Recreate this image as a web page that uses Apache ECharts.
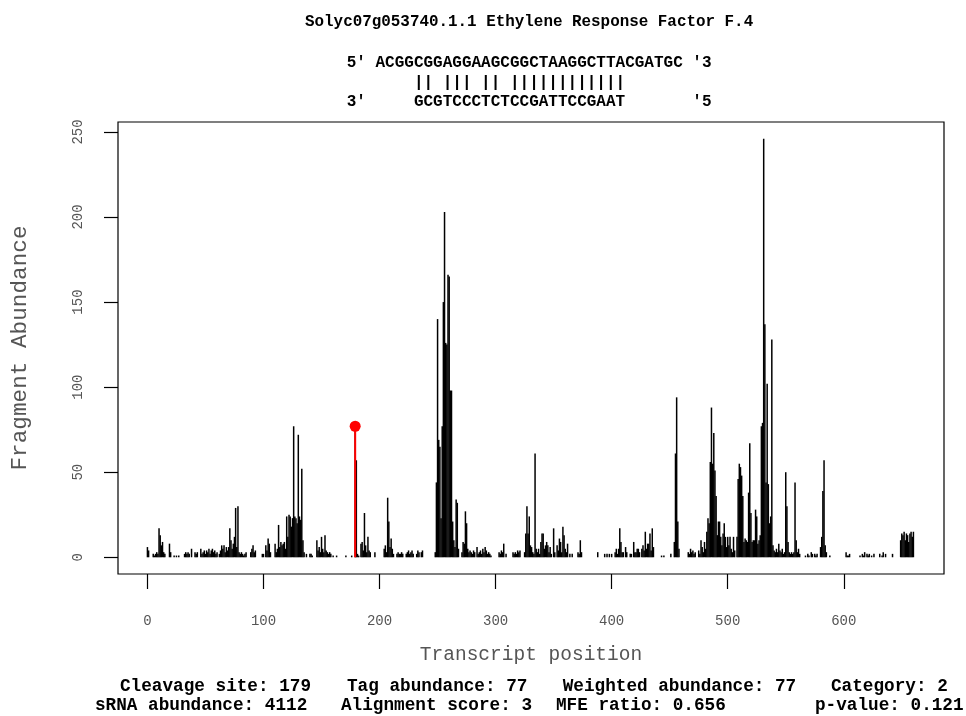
<!DOCTYPE html>
<html>
<head>
<meta charset="utf-8">
<title>Solyc07g053740.1.1 t-plot</title>
<script src="https://cdn.jsdelivr.net/npm/echarts@6/dist/echarts.min.js"></script>
<style>
  html, body { margin: 0; padding: 0; background: #ffffff; }
  #chart { width: 966px; height: 716px; }
</style>
</head>
<body>
<div id="chart"></div>
<script>
// Degradome fragment abundance along the transcript, stored as runs of
// consecutive positions: runStart[i] is the first position of runValues[i].
const runStart = [0, 23, 32, 62, 89, 99, 110, 140, 146, 163, 171, 176, 179, 196, 204, 215, 232,
  248, 271, 303, 315, 325, 371, 388, 394, 403, 443, 451, 466, 475, 567, 580, 602, 614, 631, 642, 649];
const runValues = [
  [6, 4, 0, 0, 0, 2, 1, 2, 3, 2, 17, 13, 7, 9, 3, 2, 0, 0, 0, 8, 3],
  [1, 0, 1, 0, 1],
  [2, 3, 2, 3, 2, 0, 5, 0, 0, 3, 2, 3, 0, 0, 5, 2, 3, 4, 2, 4, 3, 5, 2, 4, 5, 3, 4, 2, 3],
  [2, 4, 7, 5, 7, 3, 6, 4, 6, 17, 10, 5, 8, 12, 29, 6, 30, 3, 2, 3, 2, 1, 2, 3],
  [3, 5, 7, 3, 4],
  [2, 2, 0, 7, 4, 11, 8, 3],
  [8, 3, 5, 19, 6, 9, 7, 8, 9, 5, 24, 12, 25, 24, 18, 23, 77, 24, 23, 20, 72, 24, 22, 52, 10, 3, 0, 2],
  [2, 2, 1],
  [10, 4, 6, 3, 12, 5, 3, 13, 4, 3, 2, 3, 2, 0, 1],
  [1],
  [1],
  [1],
  [77, 57, 2, 1, 0, 8, 9, 4, 26, 7, 3, 12, 4, 3],
  [3],
  [5, 7, 3, 35, 21, 6, 11, 5, 2],
  [2, 3, 2, 2, 3, 2, 0, 0, 2, 3, 4, 2, 3, 4, 2],
  [2, 4, 3, 0, 3, 4],
  [3, 44, 140, 69, 65, 23, 77, 150, 203, 126, 125, 166, 165, 98, 98, 21, 10, 6, 34, 32, 5],
  [3, 9, 8, 27, 20, 5, 3, 4, 3, 2, 4, 3, 0, 6, 2, 3, 4, 2, 5, 3, 6, 4, 2, 3, 2, 1],
  [3, 2, 4, 3, 8, 0, 2],
  [3, 2, 3, 2, 4, 3, 4],
  [3, 14, 30, 14, 24, 7, 6, 3, 2, 61, 5, 3, 5, 2, 9, 14, 14, 5, 7, 9, 7, 3, 6, 2, 0, 17, 3, 0, 7, 4, 11, 9, 3, 18, 13, 5, 3, 8, 0, 2, 0, 2],
  [3, 2, 10, 3],
  [3],
  [2, 0, 2, 0, 2, 0, 2],
  [3, 5, 2, 5, 17, 9, 3, 3, 0, 6, 3, 0, 0, 2, 2, 0, 9, 3, 3, 5, 5, 3, 0, 5, 7, 4, 15, 5, 8, 8, 14, 4, 17, 6],
  [1, 0, 1],
  [2, 0, 0, 9, 61, 94, 21, 5],
  [3, 2, 5, 3, 4, 2, 3],
  [4, 2, 10, 6, 3, 9, 5, 15, 23, 20, 56, 88, 55, 73, 51, 36, 13, 21, 21, 12, 7, 14, 20, 12, 6, 12, 7, 12, 5, 3,
   12, 4, 0, 12, 46, 55, 53, 48, 36, 9, 11, 10, 9, 38, 67, 26, 9, 10, 10, 28, 24, 8, 10, 13, 77, 79, 246, 137, 44, 102,
   43, 20, 24, 128, 7, 4, 3, 5, 3, 8, 4, 3, 5, 2, 3, 50, 30, 9, 3, 2, 3, 2, 3, 44, 10, 3, 5, 2],
  [1, 0, 2, 1, 0, 3, 2, 0, 2, 1, 2],
  [6, 12, 39, 57, 7, 3, 0, 0, 1],
  [3, 1, 1, 2],
  [1, 0, 2, 1, 3, 0, 2, 1, 2, 0, 1, 0, 2],
  [2, 0, 1, 3, 0, 2],
  [2],
  [10, 14, 13, 15, 10, 14, 13, 9, 14, 15, 12, 15]
];

// Tick marks of both axes
const xTicks = [0, 100, 200, 300, 400, 500, 600];
const yTicks = [0, 50, 100, 150, 200, 250];

// Cleavage-site summary
const transcriptName = 'Solyc07g053740.1.1 Ethylene Response Factor F.4';
const targetLine = "5' ACGGCGGAGGAAGCGGCTAAGGCTTACGATGC '3";
const pairLine   = '       || ||| || ||||||||||||';
const srnaLine   = "3'     GCGTCCCTCTCCGATTCCGAAT       '5";
const cleavageSite = 179;
const tagAbundance = 77;
const weightedAbundance = 77;
const category = 2;
const srnaAbundance = 4112;
const alignmentScore = 3;
const mfeRatio = 0.656;
const pValue = 0.121;

// Expand runs into [position, abundance] pairs, leaving out empty positions
const fragments = [];
runStart.forEach(function (start, i) {
  runValues[i].forEach(function (v, k) {
    if (v > 0) fragments.push([start + k, v]);
  });
});

// Axis ranges padded by 4% like the classic plotting default
const xLo = 1, xHi = 660;
const yHi = Math.max.apply(null, fragments.map(function (d) { return d[1]; }));
const xPad = 0.04 * (xHi - xLo);
const yPad = 0.04 * yHi;

const MONO = "'Liberation Mono', 'Courier New', monospace";
const GREY = '#555555';

const chart = echarts.init(document.getElementById('chart'), null, { renderer: 'canvas' });

function txt(x, y, text, size, opts) {
  opts = opts || {};
  return {
    type: 'text',
    x: x,
    y: y,
    silent: true,
    style: {
      text: text,
      font: (opts.bold === false ? '' : 'bold ') + size + 'px ' + MONO,
      fill: opts.color || '#000000',
      textAlign: opts.align || 'left',
      textVerticalAlign: 'middle'
    }
  };
}

chart.setOption({
  animation: false,
  backgroundColor: '#ffffff',
  grid: {
    left: 117, right: 22, top: 122, bottom: 142,
    show: true, borderColor: '#000000', borderWidth: 1.2, backgroundColor: 'transparent'
  },
  xAxis: {
    type: 'value',
    min: xLo - xPad,
    max: xHi + xPad,
    name: 'Transcript position',
    nameLocation: 'middle',
    nameGap: 71,
    nameTextStyle: { fontFamily: MONO, fontSize: 19.5, color: GREY },
    axisLine: { show: false, onZero: false },
    splitLine: { show: false },
    axisTick: {
      show: true, inside: false, length: 15, customValues: xTicks,
      lineStyle: { color: '#000000', width: 1.2 }
    },
    axisLabel: {
      customValues: xTicks, margin: 40,
      fontFamily: MONO, fontSize: 14, color: GREY
    }
  },
  yAxis: {
    type: 'value',
    min: -yPad,
    max: yHi + yPad,
    name: 'Fragment Abundance',
    nameLocation: 'middle',
    nameGap: 87,
    nameTextStyle: { fontFamily: MONO, fontSize: 22.7, color: GREY },
    axisLine: { show: false, onZero: false },
    splitLine: { show: false },
    axisTick: {
      show: true, inside: false, length: 14, customValues: yTicks,
      lineStyle: { color: '#000000', width: 1.2 }
    },
    axisLabel: {
      customValues: yTicks, rotate: 90, margin: 33,
      fontFamily: MONO, fontSize: 14, color: GREY
    }
  },
  series: [
    {
      name: 'fragments',
      type: 'bar',
      data: fragments,
      barWidth: 1.5,
      itemStyle: { color: '#000000' },
      silent: true,
      z: 2
    },
    {
      name: 'cleavage stem',
      type: 'line',
      data: [[cleavageSite, 0], [cleavageSite, tagAbundance]],
      symbol: 'none',
      lineStyle: { color: '#ff0000', width: 2 },
      silent: true,
      z: 3
    },
    {
      name: 'cleavage site',
      type: 'scatter',
      data: [[cleavageSite, tagAbundance]],
      symbol: 'circle',
      symbolSize: 11,
      itemStyle: { color: '#ff0000', opacity: 1 },
      silent: true,
      z: 4
    }
  ],
  graphic: [
    txt(305, 21.7, transcriptName, 15.9),
    txt(346.7, 63, targetLine, 16),
    txt(346.7, 82.5, pairLine, 16),
    txt(346.7, 101.5, srnaLine, 16),
    txt(120, 687, 'Cleavage site: ' + cleavageSite, 17.7),
    txt(347, 687, 'Tag abundance: ' + tagAbundance, 17.7),
    txt(562.7, 687, 'Weighted abundance: ' + weightedAbundance, 17.7),
    txt(831, 687, 'Category: ' + category, 17.7),
    txt(95, 706, 'sRNA abundance: ' + srnaAbundance, 17.7),
    txt(341, 706, 'Alignment score: ' + alignmentScore, 17.7),
    txt(556, 706, 'MFE ratio: ' + mfeRatio, 17.7),
    txt(815, 706, 'p-value: ' + pValue, 17.7)
  ]
});
</script>
</body>
</html>
